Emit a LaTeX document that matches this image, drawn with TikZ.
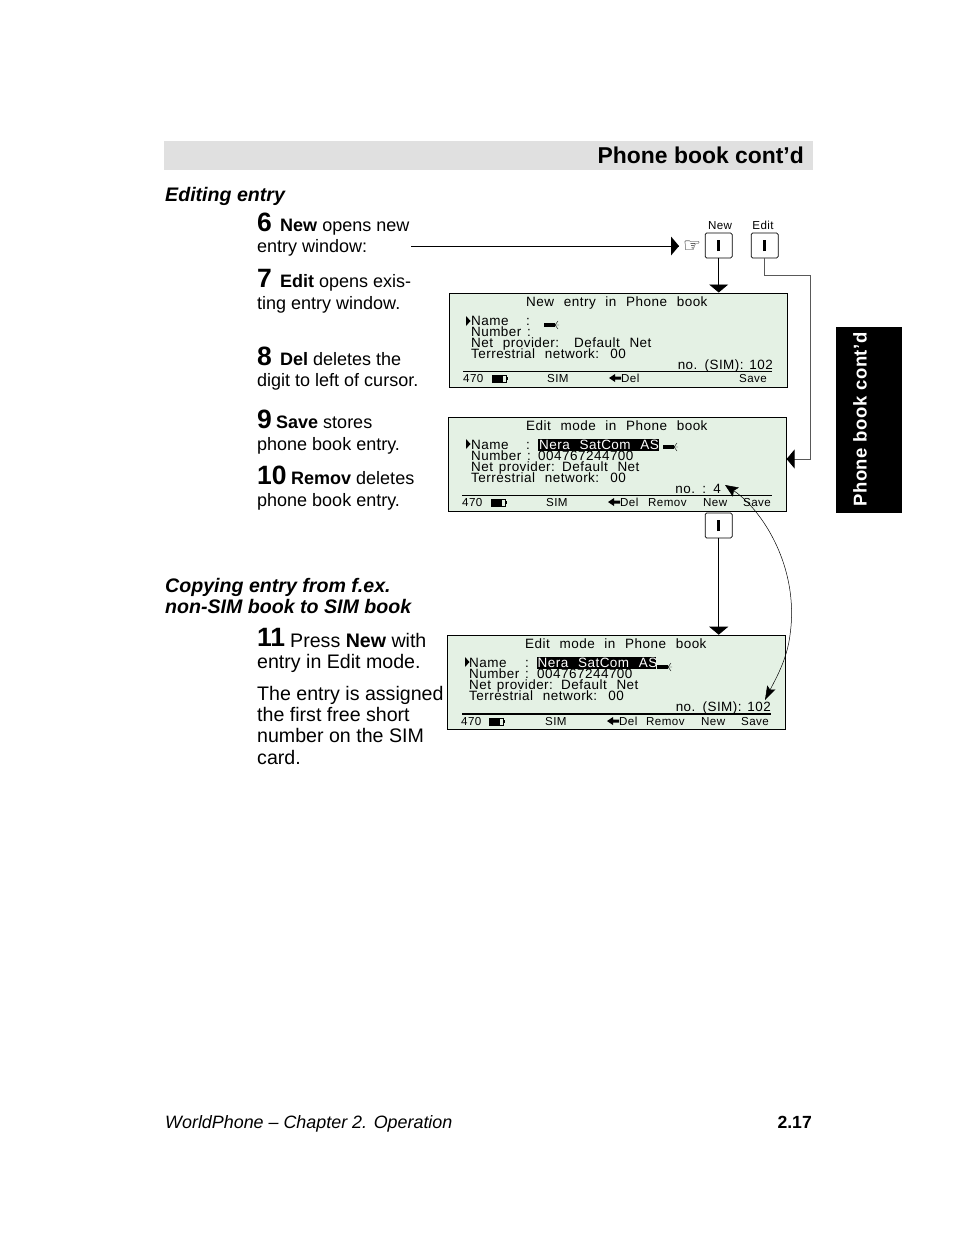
\documentclass[tikz,border=0pt]{standalone}
\usepackage{fontspec}
\setmainfont{Liberation Sans}
\newfontfamily\lcdfont[LetterSpace=3.5,WordSpace=2.3]{Liberation Sans}
\newfontfamily\lcdtight[LetterSpace=3.4,WordSpace=1.4]{Liberation Sans}
\newfontfamily\tabfont[LetterSpace=3]{Liberation Sans}
\newfontfamily\handfont{DejaVu Sans}
\usetikzlibrary{arrows.meta}
\tikzset{
  body/.style={anchor=base west, inner sep=0pt, font=\fontsize{18}{20}\selectfont},
  bodybig/.style={anchor=base west, inner sep=0pt, font=\fontsize{19.6}{21}\selectfont},
  bigno/.style={anchor=base west, inner sep=0pt, font=\fontsize{26.5}{30}\selectfont\bfseries},
  subhead/.style={anchor=base west, inner sep=0pt, font=\fontsize{19.6}{21}\selectfont\bfseries\itshape},
  screenbox/.style={draw=black, line width=0.8pt, fill=lcdgreen, minimum width=337.5pt, minimum height=94pt, inner sep=0pt},
  lcd/.style={anchor=base west, inner sep=0pt, font=\fontsize{13.5}{14}\selectfont\lcdfont},
  lcdnarrow/.style={anchor=base west, inner sep=0pt, font=\fontsize{13.45}{14}\selectfont\lcdtight},
  lcdsmall/.style={anchor=base west, inner sep=0pt, font=\fontsize{11.6}{12}\selectfont\lcdfont},
  softkey/.style={draw=black, rounded corners=1.5pt, line width=0.7pt, minimum width=27pt, minimum height=25pt, inner sep=0pt},
  conn/.style={line width=0.8pt},
  bighead/.style={-{Triangle[length=8pt,width=19pt,fill=black,color=black]}}
}
\definecolor{lcdgreen}{HTML}{E4F1E4}
\definecolor{barback}{HTML}{E0E0E0}
% small pieces of the display
\newcommand{\lcdcursor}[2]{%
  \fill (#1,#2-2) rectangle +(11,4);
  \draw[line width=0.4pt] (#1+11,#2) -- +(3,-4) (#1+11,#2) -- +(3,4) (#1+11,#2) -- +(4,0);
}
\newcommand{\lcdbattery}[2]{%
  \draw[line width=0.6pt] (#1,#2-3.5) rectangle +(14,7);
  \fill (#1,#2-3.5) rectangle +(11,7);
  \fill (#1+14,#2-1.5) rectangle +(2,3);
}
\newcommand{\lcdmark}[2]{\fill (#1,#2-5) -- (#1+4.5,#2) -- (#1,#2+5) -- cycle;}
\newcommand{\lcdback}[2]{\fill (#1,#2) -- (#1+6,#2-4) -- (#1+6,#2-1.5) -- (#1+12,#2-1.5) -- (#1+12,#2+1.5) -- (#1+6,#2+1.5) -- (#1+6,#2+4) -- cycle;}
\begin{document}
\begin{tikzpicture}[x=1pt,y=-1pt]
\useasboundingbox (0,0) rectangle (954,1255);
\fill[white] (0,0) rectangle (954,1255);

% Header bar and side tab
\node[fill=barback, minimum width=649pt, minimum height=29pt, inner sep=0pt, anchor=north west] (headbar) at (164,141) {};
\node[anchor=base east, inner sep=0pt, font=\fontsize{22.9}{24}\selectfont\bfseries] (headtext) at (804,163) {Phone book cont’d};
\node[fill=black, minimum width=66pt, minimum height=186pt, inner sep=0pt, anchor=north west] (sidetab) at (836,327) {};
\node[rotate=90, anchor=base, inner sep=0pt, text=white, font=\fontsize{18.5}{20}\selectfont\tabfont\bfseries] (sidetext) at (866.5,419.5) {Phone book cont’d};

% Left column
\node[subhead] (editing) at (165,201) {Editing entry};
\node[bigno] (six) at (257,231) {6};
\node[body] (sixa) at (280,231) {\textbf{New} opens new};
\node[body] (sixb) at (257,252) {entry window:};
\node[bigno] (seven) at (257,287) {7};
\node[body] (sevena) at (280,287) {\textbf{Edit} opens exis-};
\node[body] (sevenb) at (257,309) {ting entry window.};
\node[bigno] (eight) at (257,365) {8};
\node[body] (eighta) at (280,365) {\textbf{Del} deletes the};
\node[body] (eightb) at (257,386) {digit to left of cursor.};
\node[bigno] (nine) at (257,428) {9};
\node[body] (ninea) at (276,428) {\textbf{Save} stores};
\node[body] (nineb) at (257,450) {phone book entry.};
\node[bigno] (ten) at (257,484) {10};
\node[body] (tena) at (291,484) {\textbf{Remov} deletes};
\node[body] (tenb) at (257,506) {phone book entry.};
\node[subhead] (copya) at (165,592) {Copying entry from f.ex.};
\node[subhead] (copyb) at (165,613) {non-SIM book to SIM book};
\node[bigno] (eleven) at (257,646) {11};
\node[bodybig] (elevena) at (290,647) {Press \textbf{New} with};
\node[bodybig] (elevenb) at (257,668) {entry in Edit mode.};
\node[bodybig] (assigna) at (257,700) {The entry is assigned};
\node[bodybig] (assignb) at (257,721) {the first free short};
\node[bodybig] (assignc) at (257,742) {number on the SIM};
\node[bodybig] (assignd) at (257,764) {card.};

% Soft keys on top
\node[softkey] (keynew) at (718.7,245.5) {\rule{3pt}{11pt}};
\node[softkey] (keyedit) at (764.7,245.5) {\rule{3pt}{11pt}};
\node[softkey] (keynewb) at (718.7,525.5) {\rule{3pt}{11pt}};
\node[lcdsmall, anchor=base] (keynewlab) at (720,229) {New};
\node[lcdsmall, anchor=base] (keyeditlab) at (763,229) {Edit};
\node[inner sep=0pt, font=\fontsize{20}{20}\selectfont\handfont] (hand) at (692,247) {☞};

% First screen
\node[screenbox, anchor=north west] (screennew) at (449.3,292.5) {};
\node[lcd] (newtitle) at (526,306) {New entry in Phone book};
\lcdmark{466}{321}
\node[lcd] (newname) at (471,325) {Name};
\node[lcd] (newcolon) at (526,325) {:};
\lcdcursor{544}{325}
\node[lcdnarrow] (newnumber) at (471,336) {Number :};
\node[lcd] (newnet) at (471,347) {Net provider:};
\node[lcd] (newnetval) at (574,347) {Default Net};
\node[lcd] (newterr) at (471,358) {Terrestrial network: 00};
\node[lcdnarrow, anchor=base east] (newno) at (773,369) {no. (SIM): 102};
\draw[line width=0.9pt] (463,371.5) -- (772,371.5);
\node[lcdsmall] (newcount) at (463,382) {470};
\lcdbattery{492}{378.5}
\node[lcdsmall] (newsim) at (547,382) {SIM};
\lcdback{609}{378}
\node[lcdsmall] (newdel) at (621,382) {Del};
\node[lcdsmall] (newsave) at (739,382) {Save};

% Second screen
\node[screenbox, anchor=north west] (screenedit) at (448.3,416.7) {};
\node[lcd] (edittitle) at (526,430) {Edit mode in Phone book};
\lcdmark{466}{444}
\node[lcd] (editname) at (471,449) {Name};
\node[lcd] (editcolon) at (526,449) {:};
\fill (538,439) rectangle (659,451);
\node[lcd, text=white] (editval) at (539,449) {Nera SatCom AS};
\lcdcursor{663}{447}
\node[lcdnarrow] (editnumber) at (471,460) {Number :};
\node[lcd] (editnumval) at (538,460) {004767244700};
\node[lcdnarrow] (editnet) at (471,471) {Net provider:};
\node[lcd] (editnetval) at (562,471) {Default Net};
\node[lcd] (editterr) at (471,482) {Terrestrial network: 00};
\node[lcdnarrow, anchor=base east] (editno) at (721,493) {no. : 4};
\draw[line width=0.9pt] (462,495) -- (772,495);
\node[lcdsmall] (editcount) at (462,506) {470};
\lcdbattery{491}{502.5}
\node[lcdsmall] (editsim) at (546,506) {SIM};
\lcdback{608}{502}
\node[lcdsmall] (editdel) at (620,506) {Del};
\node[lcdsmall] (editremov) at (648,506) {Remov};
\node[lcdsmall] (editnew) at (703,506) {New};
\node[lcdsmall] (editsave) at (743,506) {Save};

% Third screen
\node[screenbox, anchor=north west] (screensim) at (447.3,634.7) {};
\node[lcd] (simtitle) at (525,648) {Edit mode in Phone book};
\lcdmark{465}{662}
\node[lcd] (simname) at (469,667) {Name};
\node[lcd] (simcolon) at (525,667) {:};
\fill (537,657) rectangle (656,669);
\node[lcd, text=white] (simval) at (537.5,667) {Nera SatCom AS};
\lcdcursor{657}{667}
\node[lcdnarrow] (simnumber) at (469,678) {Number :};
\node[lcd] (simnumval) at (537,678) {004767244700};
\node[lcdnarrow] (simnet) at (469,689) {Net provider:};
\node[lcd] (simnetval) at (561,689) {Default Net};
\node[lcd] (simterr) at (469,700) {Terrestrial network: 00};
\node[lcdnarrow, anchor=base east] (simno) at (771,711) {no. (SIM): 102};
\draw[line width=1.4pt] (462,714) -- (771,714);
\node[lcdsmall] (simcount) at (461,725) {470};
\lcdbattery{489}{721.5}
\node[lcdsmall] (simsim) at (545,725) {SIM};
\lcdback{607}{721}
\node[lcdsmall] (simdel) at (619,725) {Del};
\node[lcdsmall] (simremov) at (646,725) {Remov};
\node[lcdsmall] (simnew) at (701,725) {New};
\node[lcdsmall] (simsave) at (741,725) {Save};

% Connectors
\coordinate (entrystart) at (411,246);
\coordinate (entryend) at (679,246);
\coordinate (editdrop) at (810.7,275.5);
\coordinate (editlevel) at (800,459);
\coordinate (curvestart) at (725,485);
\coordinate (curveend) at (765,700);
\draw[conn] (entrystart) -- (entryend);
\fill (entryend) -- +(-8,-9.5) -- +(-8,9.5) -- cycle;
\draw[conn, bighead] (keynew.south) -- (screennew.north -| keynew.south);
\draw[conn, bighead] (keynewb.south) -- (screensim.north -| keynewb.south);
\draw[conn, black!65, bighead] (keyedit.south) |- (editdrop) |- (screenedit.east |- editlevel);
\draw[line width=0.5pt, {Stealth[length=13pt,width=11pt,inset=2.5pt]}-{Stealth[length=14pt,width=9pt,inset=2.5pt]}] (curvestart) .. controls (760,508) and (800,565) .. (790,635) .. controls (787,660) and (775,680) .. (curveend);

% Footer
\node[anchor=base west, inner sep=0pt, font=\fontsize{17.9}{20}\selectfont\itshape] (footleft) at (165,1128) {WorldPhone – Chapter 2. Operation};
\node[anchor=base east, inner sep=0pt, font=\fontsize{17.6}{20}\selectfont\bfseries] (footright) at (812,1128) {2.17};
\end{tikzpicture}
\end{document}
